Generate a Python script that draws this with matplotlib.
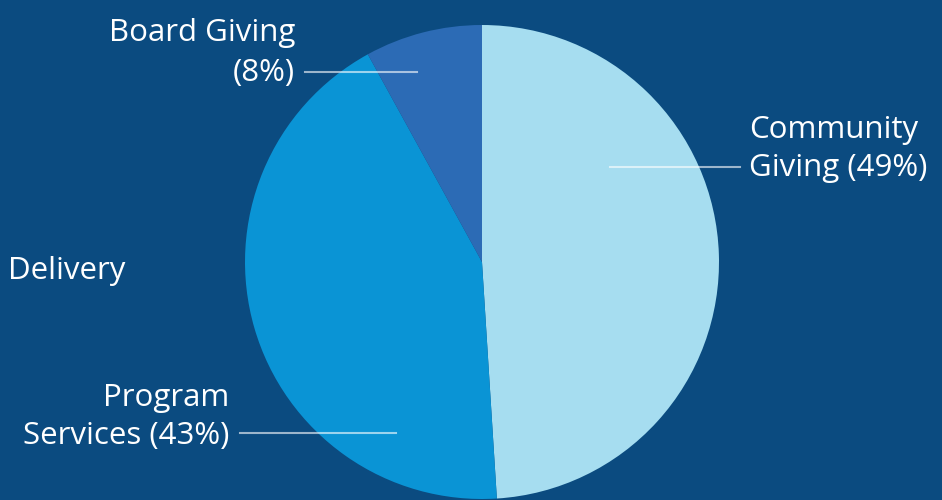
import matplotlib.pyplot as plt

labels = ['Community\nGiving (49%)', 'Program\nServices (43%)', 'Board Giving\n(8%)']
shares = [49, 43, 8]
colors = ['#a6ddf0', '#0a94d5', '#2c6bb5']
bg = '#0b4b80'

plt.rcParams['font.family'] = ['Open Sans', 'DejaVu Sans']

fig = plt.figure(figsize=(9.42, 5), dpi=100, facecolor=bg)
ax = fig.add_axes([0, 0, 1, 1])
ax.set_facecolor(bg)

# pie in pixel-like coords (y up)
ax.pie(shares, colors=colors, startangle=90, counterclock=False,
       center=(482, 238), radius=237, wedgeprops=dict(linewidth=0))
ax.set_xlim(0, 942)
ax.set_ylim(0, 500)
ax.set_aspect('equal')
ax.axis('off')

tc = 'white'
fs = 22.5
line_col = (1, 1, 1, 0.6)

# community giving
ax.plot([610, 740], [333, 333], color=line_col, lw=1.5)
ax.text(749, 351, labels[0], color=tc, fontsize=fs, ha='left', va='center',
        linespacing=1.32)

# program services
ax.plot([240, 396], [67, 67], color=line_col, lw=1.5)
ax.text(229, 83, labels[1], color=tc, fontsize=fs, ha='right', va='center',
        multialignment='right', linespacing=1.32)

# board giving
ax.plot([305, 417], [428, 428], color=line_col, lw=1.5)
ax.text(295, 447, labels[2], color=tc, fontsize=fs, ha='right', va='center',
        multialignment='right', linespacing=1.42)

ax.text(8, 229, 'Delivery', color=tc, fontsize=fs, ha='left', va='center')

fig.savefig('out.png', facecolor=bg)
